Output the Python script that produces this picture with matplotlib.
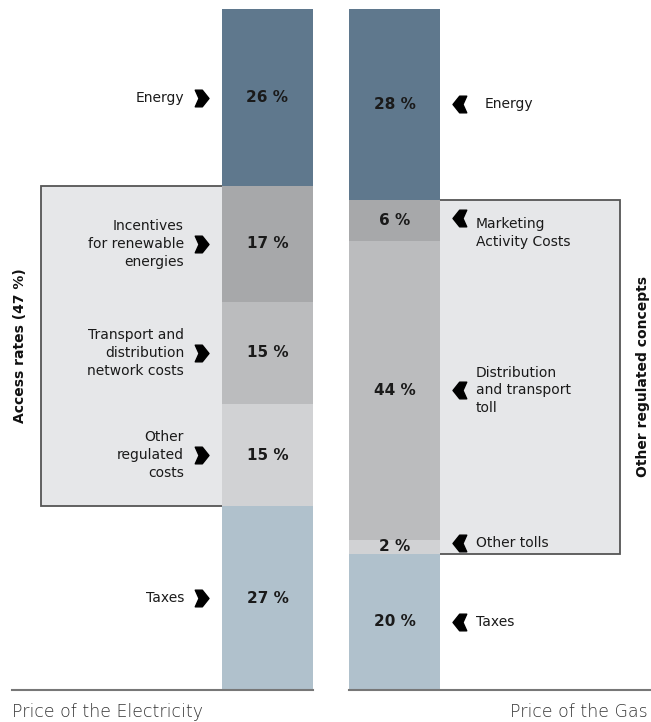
import matplotlib

matplotlib.use("Agg")
import matplotlib.pyplot as plt
from matplotlib.patches import Rectangle
from matplotlib.path import Path

# data
elec_labels = ["Energy", "Incentives\nfor renewable\nenergies", "Transport and\ndistribution\nnetwork costs",
               "Other\nregulated\ncosts", "Taxes"]
elec_values = [26, 17, 15, 15, 27]
gas_labels = ["Energy", "Marketing\nActivity Costs", "Distribution\nand transport\ntoll", "Other tolls", "Taxes"]
gas_values = [28, 6, 44, 2, 20]
seg_colors = ["#5f788d", "#a7a8aa", "#bbbcbe", "#d1d2d4", "#b0c1cc"]

W, H = 651, 722
fig = plt.figure(figsize=(W / 100, H / 100), dpi=100)
# y axis in percent, 0 at top of the bars (pixel 9), 100 at bottom (pixel 690)
ax = fig.add_axes([0, (H - 690) / H, 1, 681 / H])
ax.set_xlim(0, W)
ax.set_ylim(100, 0)
ax.axis("off")

label_font = "DejaVu Sans"
pct_font = "DejaVu Sans"

right_chev = Path([(-0.75, 1), (0.1, 1), (0.9, 0), (0.1, -1), (-0.75, -1), (-0.3, 0), (-0.75, 1)],
                  [Path.MOVETO] + [Path.LINETO] * 5 + [Path.CLOSEPOLY])
left_chev = Path([(0.75, 1), (-0.1, 1), (-0.9, 0), (-0.1, -1), (0.75, -1), (0.3, 0), (0.75, 1)],
                 [Path.MOVETO] + [Path.LINETO] * 5 + [Path.CLOSEPOLY])

elec_x, gas_x, bar_w = 267.5, 394.5, 91


def cumulative(vals):
    out, s = [], 0
    for v in vals:
        out.append(s)
        s += v
    return out


elec_bottoms = cumulative(elec_values)
gas_bottoms = cumulative(gas_values)

# grey boxes for regulated parts
top_e = elec_bottoms[1]
bot_e = elec_bottoms[4]
ax.add_patch(Rectangle((41, top_e), elec_x - 41, bot_e - top_e, facecolor="#e6e7e9",
                       edgecolor="#555555", lw=1.3, zorder=1))
top_g = gas_bottoms[1]
bot_g = gas_bottoms[4]
ax.add_patch(Rectangle((gas_x, top_g), 620 - gas_x, bot_g - top_g, facecolor="#e6e7e9",
                       edgecolor="#555555", lw=1.3, zorder=1))

ax.bar([elec_x] * 5, elec_values, bottom=elec_bottoms, width=bar_w, color=seg_colors, zorder=2)
ax.bar([gas_x] * 5, gas_values, bottom=gas_bottoms, width=bar_w, color=seg_colors, zorder=2)

px = 100 / 681  # one pixel in percent units

for lab, v, b in zip(elec_labels, elec_values, elec_bottoms):
    yc = b + v / 2
    ax.text(elec_x, yc, f"{v} %", ha="center", va="center", fontsize=11, fontweight="bold",
            family=pct_font, color="#1a1a1a", zorder=3)
    ax.plot(201, yc, marker=right_chev, markersize=12, color="black", zorder=3)
    ax.text(184, yc, lab, ha="right", va="center", fontsize=10, family=label_font,
            color="#1a1a1a", linespacing=1.35, zorder=3)

gas_text_x = [485, 476, 476, 476, 476]
gas_text_dy = [0, 12.5, 0, -3.5, 0]
for lab, v, b, tx, dy in zip(gas_labels, gas_values, gas_bottoms, gas_text_x, gas_text_dy):
    yc = b + v / 2
    ax.text(gas_x, yc, f"{v} %", ha="center", va="center", fontsize=11, fontweight="bold",
            family=pct_font, color="#1a1a1a", zorder=3)
    ax.plot(460, yc + min(dy, 0) * px - (2.5 * px if dy > 0 else 0), marker=left_chev, markersize=12,
            color="black", zorder=3)
    ax.text(tx, yc + dy * px, lab, ha="left", va="center", fontsize=10, family=label_font,
            color="#1a1a1a", linespacing=1.35, zorder=3)

# side titles
ax.text(20, (top_e + bot_e) / 2, "Access rates (47 %)", rotation=90, ha="center", va="center",
        fontsize=10, fontweight="bold", family=label_font, color="#111111")
ax.text(643, (top_g + bot_g) / 2, "Other regulated concepts", rotation=90, ha="center", va="center",
        fontsize=10, fontweight="bold", family=label_font, color="#111111")

# baselines
ax.plot([12, elec_x + bar_w / 2], [100, 100], color="#777777", lw=1.5, clip_on=False, zorder=4)
ax.plot([gas_x - bar_w / 2, W], [100, 100], color="#777777", lw=1.5, clip_on=False, zorder=4)

fig.text(12 / W, (H - 712) / H, "Price of the Electricity", ha="left", va="center", fontsize=12.5,
         family=pct_font, fontweight="light", color="#333333")
fig.text(648 / W, (H - 712) / H, "Price of the Gas", ha="right", va="center", fontsize=12.5,
         family=pct_font, fontweight="light", color="#333333")

fig.savefig("out.png", dpi=100)
